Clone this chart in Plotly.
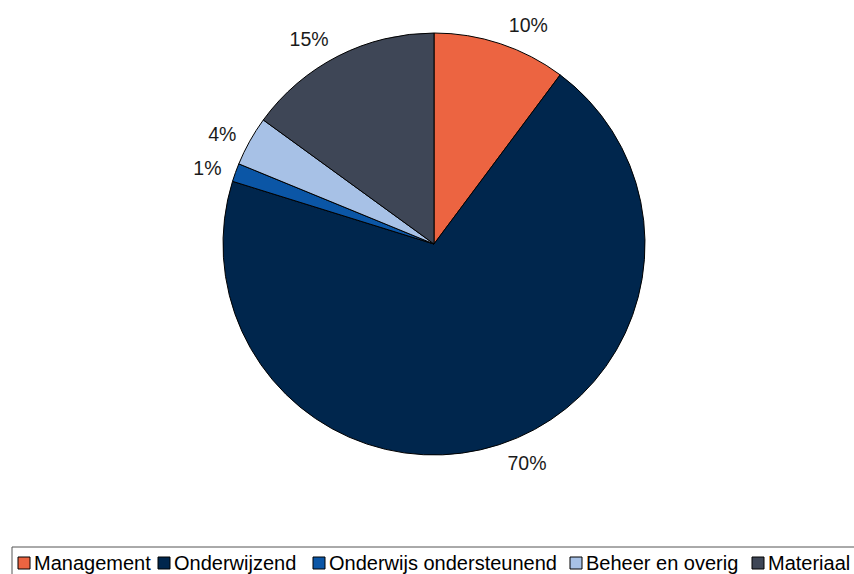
import plotly.graph_objects as go

categories = ["Management", "Onderwijzend", "Onderwijs ondersteunend", "Beheer en overig", "Materiaal"]
values = [10.2, 69.6, 1.4, 3.8, 15.0]
colors = ["#EC6441", "#00264D", "#0B56A6", "#A7C1E6", "#3E4656"]

W, H = 854, 574
FONT = "Liberation Sans, Arial, Helvetica, sans-serif"

cx, cy, r = 434, 244, 211
r_lab = 220  # labels sit a little further out than the pie edge


def dom(rad):
    return dict(x=[(cx - rad) / W, (cx + rad) / W], y=[1 - (cy + rad) / H, 1 - (cy - rad) / H])


fig = go.Figure()
# visible pie
fig.add_trace(go.Pie(
    labels=categories, values=values, sort=False, direction="clockwise", rotation=0,
    marker=dict(colors=colors, line=dict(color="black", width=1)),
    textinfo="none", domain=dom(r), automargin=False, showlegend=False,
    hoverinfo="label+percent",
))
# transparent pie carrying the outside percentage labels
fig.add_trace(go.Pie(
    labels=categories, values=values, sort=False, direction="clockwise", rotation=0,
    marker=dict(colors=["rgba(0,0,0,0)"] * len(values), line=dict(width=0)),
    textposition="outside", texttemplate="%{percent:.0%}",
    textfont=dict(family=FONT, size=19.5, color="#1a1a1a"),
    domain=dom(r_lab), automargin=False, showlegend=False, hoverinfo="skip",
))

# Manual compact legend (swatch + label), laid out left to right
legend_x = [18, 158, 313, 570, 752]
shapes = [dict(type="rect", xref="paper", yref="paper",
               x0=12 / W, x1=920 / W, y0=1 - 600 / H, y1=1 - 547 / H,
               line=dict(color="#555555", width=1), fillcolor="rgba(0,0,0,0)", layer="above")]
annotations = []
for name, col, x in zip(categories, colors, legend_x):
    shapes.append(dict(type="rect", xref="paper", yref="paper",
                       x0=x / W, x1=(x + 12) / W, y0=1 - 569 / H, y1=1 - 557 / H,
                       line=dict(color="black", width=1), fillcolor=col, layer="above"))
    annotations.append(dict(text=name, xref="paper", yref="paper",
                            x=(x + 14) / W, y=1 - 563 / H, xanchor="left", yanchor="middle",
                            showarrow=False, font=dict(family=FONT, size=20, color="#000000")))

fig.update_layout(
    width=W, height=H,
    margin=dict(l=0, r=0, t=0, b=0),
    paper_bgcolor="white",
    plot_bgcolor="white",
    font=dict(family=FONT, size=19.5, color="#000000"),
    showlegend=False,
    shapes=shapes,
    annotations=annotations,
)
fig.write_html("out.html", config={"displayModeBar": False},
               post_script="document.body.style.margin='0px';document.body.style.overflow='hidden';")
